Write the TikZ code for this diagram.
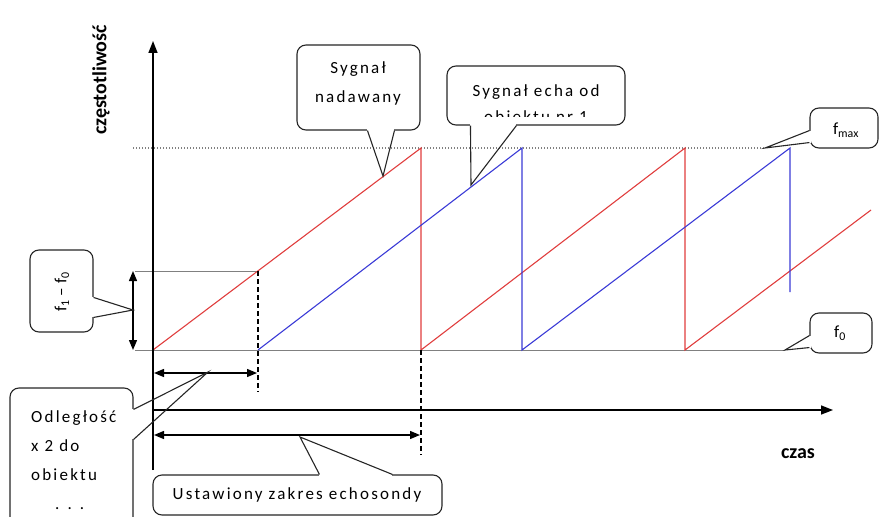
\documentclass[tikz,border=0pt]{standalone}
\usepackage{fontspec}
\setmainfont{Carlito}
\newfontfamily\callfont{Carlito}[LetterSpace=13]
\usetikzlibrary{arrows.meta}
\definecolor{sigred}{RGB}{224,62,62}
\definecolor{sigblue}{RGB}{58,58,214}
\definecolor{guide}{RGB}{128,128,128}
\begin{document}
\begin{tikzpicture}[x=1pt,y=-1pt,
  axisline/.style={line width=1.6pt,-{Triangle[length=12pt,width=9pt]}},
  dim/.style={line width=1.3pt,{Triangle[length=10pt,width=8pt]}-{Triangle[length=10pt,width=8pt]}},
  guideline/.style={draw=guide,line width=1pt},
  tx/.style={draw=sigred,line width=1.1pt},
  rx/.style={draw=sigblue,line width=1.1pt},
  marker/.style={draw=black,line width=1.1pt,dash pattern=on 5pt off 3pt},
  bubble/.style={draw=black!85,line width=1.1pt,fill=white,rounded corners=9pt,inner sep=0pt},
  bubbletext/.style={font=\callfont\fontsize{17}{29}\selectfont,align=center,inner sep=0pt},
  flabel/.style={font=\fontsize{17}{19}\selectfont,inner sep=0pt},
  pointer/.style={draw=black!85,line width=1.1pt},
  gap/.style={draw=white,line width=2.6pt},
  axislabel/.style={font=\bfseries\fontsize{20}{22}\selectfont,inner sep=0pt}
]
\useasboundingbox (0,0) rectangle (882,516);

% frequency levels: f0, f1 and fmax
\coordinate (f0a) at (135,350);  \coordinate (f0b) at (785,350);
\coordinate (f1a) at (135,271);  \coordinate (f1b) at (258,271);
\coordinate (fma) at (133,148);  \coordinate (fmb) at (765,148);
\draw[guideline] (f0a) -- (f0b);
\draw[guideline] (f1a) -- (f1b);
\draw[guideline,dotted,line width=1.4pt] (fma) -- (fmb);

% transmitted sweep (red)
\coordinate (r0) at (153,350); \coordinate (r1) at (421,148);
\coordinate (r2) at (421,350); \coordinate (r3) at (685,148);
\coordinate (r4) at (685,350); \coordinate (r5) at (871,210);
\draw[tx] (r0) -- (r1) -- (r2) -- (r3) -- (r4) -- (r5);

% echo from the object (blue)
\coordinate (b0) at (258,350); \coordinate (b1) at (522,148);
\coordinate (b2) at (522,350); \coordinate (b3) at (790,148);
\coordinate (b4) at (790,292);
\draw[rx] (b0) -- (b1) -- (b2) -- (b3) -- (b4);

% dashed time markers
\coordinate (m1a) at (258,271); \coordinate (m1b) at (258,392);
\coordinate (m2a) at (421,350); \coordinate (m2b) at (421,455);
\draw[marker] (m1a) -- (m1b);
\draw[marker] (m2a) -- (m2b);

% dimension arrows
\coordinate (d1a) at (133,271); \coordinate (d1b) at (133,350);
\coordinate (d2a) at (154,373); \coordinate (d2b) at (257,373);
\coordinate (d3a) at (154,435); \coordinate (d3b) at (420,435);
\draw[dim] (d1a) -- (d1b);
\draw[dim] (d2a) -- (d2b);
\draw[dim] (d3a) -- (d3b);

% axes
\coordinate (ybot) at (153,470); \coordinate (ytop) at (153,41);
\coordinate (xleft) at (153,410); \coordinate (xright) at (833,410);
\draw[axisline] (ybot) -- (ytop);
\draw[axisline] (xleft) -- (xright);
\node[axislabel,rotate=90] (ylab) at (101,80) {częstotliwość};
\node[axislabel] (xlab) at (798,454) {czas};

% callout: transmitted signal
\node[bubble,minimum width=123pt,minimum height=85pt] (nad) at (358.5,87.5) {};
\coordinate (nadtip) at (383,176);
\draw[gap] ([xshift=71pt]nad.south west) -- ([xshift=98pt]nad.south west);
\draw[pointer] ([xshift=71pt]nad.south west) -- (nadtip) -- ([xshift=98pt]nad.south west);
\node[bubbletext] (nadt) at (358,83) {Sygnał\\nadawany};

% callout: echo signal
\node[bubble,minimum width=178pt,minimum height=59pt] (echo) at (536,95.5) {};
\coordinate (echotip) at (471,185);
\draw[gap] ([xshift=24pt]echo.south west) -- ([xshift=70pt]echo.south west);
\draw[pointer] ([xshift=24pt]echo.south west) -- (echotip) -- ([xshift=70pt]echo.south west);
\begin{scope}
  \clip (449,68) rectangle (623,116);
  \node[bubbletext,font=\callfont\fontsize{17}{26}\selectfont] (echot) at (536,104) {Sygnał echa od\\obiektu nr 1};
\end{scope}

% callout: fmax
\node[bubble,minimum width=68pt,minimum height=40pt] (fmax) at (844,128) {};
\coordinate (fmaxtip) at (765,148);
\draw[gap] ([yshift=18pt]fmax.south west) -- ([yshift=6pt]fmax.south west);
\draw[pointer] ([yshift=18pt]fmax.south west) -- (fmaxtip) -- ([yshift=6pt]fmax.south west);
\node[flabel] (fmaxt) at (846,130) {f\textsubscript{max}};

% callout: f0
\node[bubble,minimum width=62pt,minimum height=40pt] (fzero) at (841,333) {};
\coordinate (fzerotip) at (785,350);
\draw[gap] ([yshift=18pt]fzero.south west) -- ([yshift=6pt]fzero.south west);
\draw[pointer] ([yshift=18pt]fzero.south west) -- (fzerotip) -- ([yshift=6pt]fzero.south west);
\node[flabel] (fzerot) at (840,333) {f\textsubscript{0}};

% callout: f1 - f0
\node[bubble,minimum width=63pt,minimum height=82pt] (fdiff) at (61.5,291) {};
\coordinate (fdifftip) at (133,310);
\draw[gap] ([yshift=-48pt]fdiff.north east) -- ([yshift=-68pt]fdiff.north east);
\draw[pointer] ([yshift=-48pt]fdiff.north east) -- (fdifftip) -- ([yshift=-68pt]fdiff.north east);
\node[flabel,rotate=90] (fdifft) at (62,292) {f\textsubscript{1} – f\textsubscript{0}};

% callout: distance to the object
\node[bubble,minimum width=123pt,minimum height=157pt] (dist) at (71.5,466.5) {};
\coordinate (disttip) at (208,372);
\draw[gap] ([yshift=-22pt]dist.north east) -- ([yshift=-52pt]dist.north east);
\draw[pointer] ([yshift=-22pt]dist.north east) -- (disttip) -- ([yshift=-52pt]dist.north east);
\node[bubbletext,align=left,anchor=west] (distt) at (31,460) {Odległość\\x 2 do\\obiektu\\\hspace*{24pt}. . .};

% callout: sounder range setting
\node[bubble,minimum width=289pt,minimum height=40pt] (range) at (297.5,495) {};
\coordinate (rangetip) at (300,437);
\draw[gap] ([xshift=167pt]range.north west) -- ([xshift=240pt]range.north west);
\draw[pointer] ([xshift=167pt]range.north west) -- (rangetip) -- ([xshift=240pt]range.north west);
\node[bubbletext] (ranget) at (297,495) {Ustawiony zakres echosondy};
\end{tikzpicture}
\end{document}
